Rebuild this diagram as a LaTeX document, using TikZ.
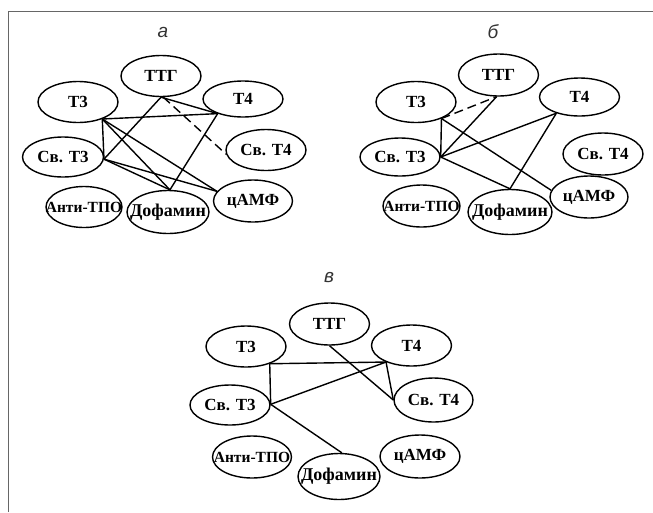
\documentclass[tikz,border=0pt]{standalone}
\usepackage{fontspec}
\setmainfont{Liberation Serif}
\newfontfamily\titlefont{Liberation Sans}
\usetikzlibrary{shapes.geometric}
\tikzset{
  el/.style={ellipse, draw=black, line width=1.4pt, inner sep=0pt,
    minimum width=80pt, minimum height=41pt,
    font=\fontsize{17}{17}\selectfont\bfseries},
  small/.style={font=\fontsize{15.5}{15.5}\selectfont\bfseries},
  wide/.style={font=\fontsize{18}{18}\selectfont\bfseries},
  link/.style={line width=1.4pt, black},
  dlink/.style={link, dash pattern=on 9pt off 5pt},
  paneltitle/.style={font=\titlefont\itshape\fontsize{19}{19}\selectfont, text=black!80},
  frameline/.style={draw=black!60, line width=1pt}
}
% labels are set in zero-width boxes so each ellipse keeps its own size
\newcommand{\lbl}[1]{\makebox[0pt][c]{#1}}
\newcommand{\lowlbl}[1]{\makebox[0pt][c]{\raisebox{-4pt}{#1}}}
\begin{document}
\begin{tikzpicture}[x=1pt,y=-1pt]
\useasboundingbox (0,0) rectangle (653,512);
\draw[frameline] (8,512) -- (8,11) -- (653,11);

% ---- panel a ----
\node[paneltitle] (ta) at (163,32) {а};
\node[el] (aTTG) at (161,76) {\lbl{ТТГ}};
\node[el] (aT3) at (78,102) {\lbl{Т3}};
\node[el, minimum height=36pt] (aT4) at (243,99) {\lbl{Т4}};
\node[el, minimum width=81pt, minimum height=40pt] (aFT3) at (63,157) {\lbl{Св. Т3}};
\node[el] (aFT4) at (266,150) {\lbl{Св. Т4}};
\node[el, small, minimum width=76pt] (aTPO) at (84,207) {\lbl{Анти-ТПО}};
\node[el, wide, minimum width=82pt, minimum height=43pt] (aDA) at (168,212) {\lowlbl{Дофамин}};
\node[el, minimum width=79pt, minimum height=42pt] (aCAMP) at (253,201) {\lbl{цАМФ}};

\draw[link] (aT3.-35) -- (aT4.210);
\draw[link] (aT3.-35) -- (aFT3.-3);
\draw[link] (aT3.-35) -- (aDA.85);
\draw[link] (aT3.-35) -- (aCAMP.165);
\draw[link] (aTTG.-90) -- (aFT3.-3);
\draw[link] (aTTG.-90) -- (aT4.210);
\draw[dlink] (aTTG.-84) -- (aFT4.186);
\draw[link] (aT4.210) -- (aDA.85);
\draw[link] (aFT3.-3) -- (aCAMP.165);
\draw[link] (aFT3.-3) -- (aDA.85);

% ---- panel b ----
\node[paneltitle] (tb) at (493,32) {б};
\node[el, minimum height=42pt] (bTTG) at (498.5,75) {\lbl{ТТГ}};
\node[el] (bT3) at (416,102) {\lbl{Т3}};
\node[el, minimum height=38pt] (bT4) at (579.5,97) {\lbl{Т4}};
\node[el, minimum height=38pt] (bFT3) at (400,157) {\lbl{Св. Т3}};
\node[el, minimum height=42pt] (bFT4) at (603,154) {\lbl{Св. Т4}};
\node[el, small, minimum width=77pt, minimum height=42pt] (bTPO) at (421.5,206) {\lbl{Анти-ТПО}};
\node[el, wide, minimum width=84pt, minimum height=45pt] (bDA) at (510,212) {\lowlbl{Дофамин}};
\node[el, minimum width=78pt, minimum height=42pt] (bCAMP) at (589,197) {\lbl{цАМФ}};

\draw[dlink] (bT3.-33) -- (bTTG.-95);
\draw[link] (bT3.-33) -- (bFT3.0);
\draw[link] (bT3.-33) -- (bCAMP.170);
\draw[link] (bFT3.0) -- (bTTG.-95);
\draw[link] (bFT3.0) -- (bT4.215);
\draw[link] (bFT3.0) -- (bDA.90);
\draw[link] (bT4.215) -- (bDA.90);

% ---- panel c ----
\node[paneltitle] (tc) at (329,278) {в};
\node[el, minimum height=42pt] (cTTG) at (329.5,324) {\lbl{ТТГ}};
\node[el] (cT3) at (246,346.5) {\lbl{Т3}};
\node[el] (cT4) at (411.5,345.5) {\lbl{Т4}};
\node[el, minimum height=40pt] (cFT3) at (230,405) {\lbl{Св. Т3}};
\node[el, minimum width=79pt, minimum height=44pt] (cFT4) at (433.5,400) {\lbl{Св. Т4}};
\node[el, small, minimum width=79pt, minimum height=42pt] (cTPO) at (252,457) {\lbl{Анти-ТПО}};
\node[el, wide, minimum width=82pt, minimum height=46pt] (cDA) at (339,476.5) {\lowlbl{Дофамин}};
\node[el, minimum height=43pt] (cCAMP) at (420,456.5) {\lbl{цАМФ}};

\draw[link] (cT3.-36) -- (cT4.213);
\draw[link] (cT3.-36) -- (cFT3.1);
\draw[link] (cFT3.1) -- (cT4.213);
\draw[link] (cFT3.1) -- (cDA.83);
\draw[link] (cTTG.-90) -- (cFT4.180);
\draw[link] (cT4.213) -- (cFT4.180);
\end{tikzpicture}
\end{document}
